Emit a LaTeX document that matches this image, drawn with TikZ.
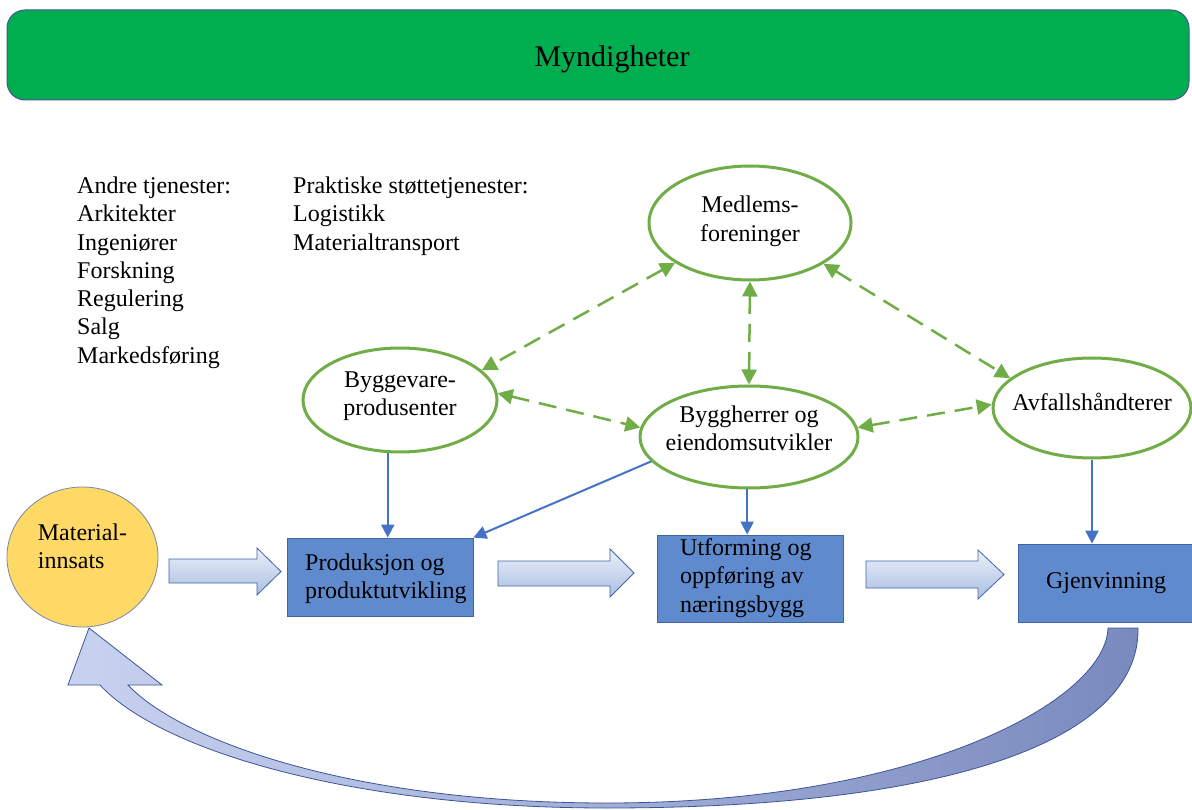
\documentclass[tikz,border=0pt]{standalone}
\usepackage{fontspec}
\setmainfont{Liberation Serif}
\usetikzlibrary{arrows.meta,shapes.geometric,calc}
\definecolor{bargreen}{RGB}{0,173,79}
\definecolor{barline}{RGB}{68,84,150}
\definecolor{ogreen}{RGB}{112,173,71}
\definecolor{ablue}{RGB}{68,114,196}
\definecolor{boxfill}{RGB}{96,138,206}
\definecolor{boxline}{RGB}{65,100,165}
\definecolor{gold}{RGB}{255,217,102}
\definecolor{goldline}{RGB}{120,135,165}
\definecolor{shaftA}{RGB}{235,240,249}
\definecolor{shaftB}{RGB}{170,190,226}
\definecolor{curveL}{RGB}{200,210,240}
\definecolor{curveR}{RGB}{122,138,190}
\definecolor{curveline}{RGB}{60,85,150}
\begin{document}
\begin{tikzpicture}[x=1pt,y=-1pt,
  txt/.style={font=\fontsize{24}{28.3}\selectfont, inner sep=0pt},
  oval/.style={ellipse, draw=ogreen, line width=3pt, fill=white, inner sep=0pt},
  pbox/.style={rectangle, draw=boxline, line width=0.8pt, fill=boxfill, inner sep=0pt, font=\fontsize{24}{28.3}\selectfont},
  dasharrow/.style={draw=ogreen, line width=2.5pt, dash pattern=on 18pt off 10pt, {Triangle[length=15pt,width=15pt]}-{Triangle[length=15pt,width=15pt]}},
  bluearrow/.style={draw=ablue, line width=2pt, -{Triangle[length=13pt,width=13pt]}},
  blockarrow/.style={draw=boxline, line width=0.8pt, top color=shaftA, bottom color=shaftB},
  curvearrow/.style={draw=curveline, line width=0.8pt, left color=curveL, right color=curveR},
]
\useasboundingbox (0,0) rectangle (1192,810);
\fill[white] (0,0) rectangle (1192,810);

% top bar
\node[draw=barline, fill=bargreen, line width=1pt, rounded corners=18pt, minimum width=1182pt, minimum height=90pt, inner sep=0pt] (bar) at (598,55) {};
\node[font=\fontsize{30}{36}\selectfont, anchor=base, inner sep=0pt] (title) at (612,67) {Myndigheter};

% side texts
\node[txt, align=left, anchor=north west] (andre) at (77,176.6) {Andre tjenester:\\Arkitekter\\Ingeniører\\Forskning\\Regulering\\Salg\\Markedsføring};
\node[txt, align=left, anchor=north west] (prakt) at (293,176.6) {Praktiske støttetjenester:\\Logistikk\\Materialtransport};

% actors
\node[oval, minimum width=202pt, minimum height=114pt] (med) at (750,223) {};
\node[txt, align=center] (medT) at (750,221.4) {Medlems-\\foreninger};
\node[oval, minimum width=194pt, minimum height=104pt] (bv) at (400,400) {};
\node[txt, align=center] (bvT) at (400,396) {Byggevare-\\produsenter};
\node[oval, minimum width=218pt, minimum height=102pt] (bh) at (749,437) {};
\node[txt, align=center] (bhT) at (749,428) {Byggherrer og\\eiendomsutvikler};
\node[oval, minimum width=198pt, minimum height=100pt] (avf) at (1092,408) {};
\node[txt, anchor=base] (avfT) at (1092,410) {Avfallshåndterer};

% material circle
\node[ellipse, draw=goldline, line width=0.8pt, fill=gold, minimum width=151pt, minimum height=140pt, inner sep=0pt] (mat) at (82.5,557) {};
\node[txt, align=left] (matT) at (82.5,546) {Material-\\innsats};

% process boxes
\node[pbox, minimum width=186pt, minimum height=78pt] (prod) at (380,577) {};
\node[txt, align=left, anchor=west] (prodT) at (305,579) {Produksjon og\\produktutvikling};
\node[pbox, minimum width=186pt, minimum height=87pt] (utf) at (750,578.5) {};
\node[txt, align=left, anchor=west] (utfT) at (680,578) {Utforming og\\oppføring av\\næringsbygg};
\node[pbox, minimum width=176pt, minimum height=78pt] (gjen) at (1106,583) {Gjenvinning};

% block arrows
\draw[blockarrow] (169,559) -- (257,559) -- (257,548) -- (281,571.5) -- (257,595) -- (257,583) -- (169,583) -- cycle;
\draw[blockarrow] (498,561) -- (610,561) -- (610,549) -- (634,573) -- (610,597) -- (610,586) -- (498,586) -- cycle;
\draw[blockarrow] (866,561) -- (978,561) -- (978,550) -- (1004,574.5) -- (978,599) -- (978,588) -- (866,588) -- cycle;

% curved return arrow
\draw[curvearrow] (1108,628) .. controls (1106,700) and (920,803) .. (607,803)
  .. controls (350,803) and (180,740) .. (128,685)
  -- (162,685) -- (89,628) -- (68,685) -- (100,685)
  .. controls (160,750) and (350,808) .. (607,808)
  .. controls (950,808) and (1140,740) .. (1138,628) -- cycle;

% blue arrows
\draw[bluearrow] (bv.257) -- (bv.257 |- prod.north);
\draw[bluearrow] (bh.194) -- (prod.north east);
\draw[bluearrow] (bh.268) -- (bh.268 |- utf.north);
\draw[bluearrow] (avf.south) -- (avf.south |- gjen.north);

% green dashed arrows
\draw[dasharrow] (med.208) -- (bv.20);
\draw[dasharrow] (med.270) -- (bh.90);
\draw[dasharrow] (med.331) -- (avf.160);
\draw[dasharrow] (bv.4) -- (bh.175);
\draw[dasharrow] (bh.5) -- (avf.178);
\end{tikzpicture}
\end{document}
